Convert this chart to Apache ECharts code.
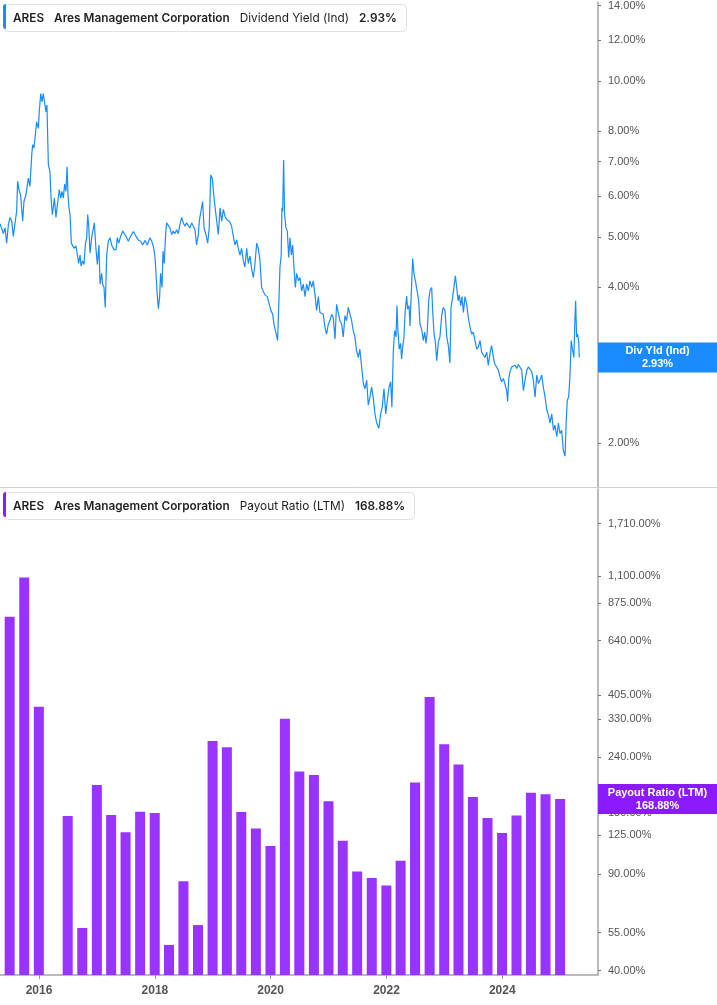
<!DOCTYPE html>
<html><head><meta charset="utf-8">
<script src="https://cdn.jsdelivr.net/npm/echarts@6/dist/echarts.min.js"></script>
<style>html,body{margin:0;padding:0;background:#fff}#c{width:717px;height:1005px}</style>
</head><body><div id="c"></div>
<script>
const ticker = 'ARES';
const companyName = 'Ares Management Corporation';
const yieldName = 'Dividend Yield (Ind)';
const payoutName = 'Payout Ratio (LTM)';

const yieldDates = ['2015-04-30','2015-05-10','2015-05-21','2015-06-01','2015-06-11','2015-06-22','2015-07-02','2015-07-13','2015-07-23','2015-08-03','2015-08-13','2015-08-19','2015-08-30','2015-09-07','2015-09-20','2015-09-28','2015-10-11','2015-10-26','2015-11-05','2015-11-16','2015-11-22','2015-11-30','2015-12-11','2015-12-17','2015-12-28',
'2016-01-03','2016-01-12','2016-01-20','2016-01-28','2016-02-06','2016-02-14','2016-02-20','2016-02-29','2016-03-10','2016-03-17','2016-03-25','2016-03-31','2016-04-07','2016-04-17','2016-04-26','2016-05-08','2016-05-17','2016-05-25','2016-06-02','2016-06-11','2016-06-19','2016-06-26','2016-07-02','2016-07-08','2016-07-15','2016-07-23','2016-07-31','2016-08-09','2016-08-21','2016-08-30','2016-09-07','2016-09-16','2016-09-22','2016-10-02','2016-10-11','2016-10-19','2016-10-28','2016-11-03','2016-11-09','2016-11-18','2016-11-28','2016-12-09','2016-12-15','2016-12-25',
'2017-01-03','2017-01-13','2017-01-20','2017-01-30','2017-02-05','2017-02-14','2017-02-22','2017-03-03','2017-03-13','2017-03-24','2017-04-03','2017-04-18','2017-05-01','2017-05-09','2017-05-18','2017-05-30','2017-06-12','2017-06-20','2017-07-03','2017-07-17','2017-08-01','2017-08-18','2017-09-04','2017-09-18','2017-10-03','2017-10-16','2017-10-31','2017-11-14','2017-12-01','2017-12-12','2017-12-22',
'2018-01-02','2018-01-08','2018-01-14','2018-01-23','2018-01-31','2018-02-06','2018-02-15','2018-02-21','2018-03-01','2018-03-10','2018-03-16','2018-03-27','2018-04-06','2018-04-17','2018-04-27','2018-05-08','2018-05-18','2018-05-29','2018-06-08','2018-06-19','2018-06-29','2018-07-10','2018-07-20','2018-07-31','2018-08-10','2018-08-21','2018-08-31','2018-09-11','2018-09-21','2018-10-02','2018-10-08','2018-10-29','2018-11-07','2018-11-19','2018-11-30','2018-12-10','2018-12-19','2018-12-29',
'2019-01-09','2019-01-21','2019-02-05','2019-02-16','2019-02-26','2019-03-09','2019-03-19','2019-03-30','2019-04-16','2019-04-30','2019-05-11','2019-05-21','2019-06-01','2019-06-11','2019-06-22','2019-07-02','2019-07-13','2019-07-23','2019-08-03','2019-08-13','2019-08-24','2019-09-03','2019-09-14','2019-09-24','2019-10-05','2019-10-15','2019-10-26','2019-11-05','2019-11-16','2019-11-26','2019-12-11','2019-12-24',
'2020-01-03','2020-01-14','2020-01-22','2020-02-02','2020-02-14','2020-02-25','2020-02-29','2020-03-08','2020-03-12','2020-03-17','2020-03-23','2020-03-29','2020-04-07','2020-04-15','2020-04-24','2020-05-02','2020-05-11','2020-05-19','2020-05-27','2020-06-05','2020-06-13','2020-06-24','2020-07-04','2020-07-15','2020-07-25','2020-08-05','2020-08-15','2020-08-26','2020-09-05','2020-09-16','2020-09-26','2020-10-07','2020-10-17','2020-10-28','2020-11-07','2020-11-18','2020-11-28','2020-12-09','2020-12-19','2020-12-30',
'2021-01-09','2021-01-20','2021-01-30','2021-02-10','2021-02-20','2021-03-03','2021-03-13','2021-03-24','2021-04-03','2021-04-14','2021-04-24','2021-05-05','2021-05-15','2021-05-26','2021-06-05','2021-06-16','2021-06-26','2021-07-07','2021-07-17','2021-07-28','2021-08-08','2021-08-18','2021-08-29','2021-09-08','2021-09-19','2021-09-29','2021-10-10','2021-10-20','2021-10-31','2021-11-14','2021-11-25','2021-12-05','2021-12-16','2021-12-27',
'2022-01-06','2022-01-17','2022-01-27','2022-02-04','2022-02-09','2022-02-13','2022-02-21','2022-03-02','2022-03-08','2022-03-14','2022-03-22','2022-03-31','2022-04-06','2022-04-13','2022-04-21','2022-04-29','2022-05-08','2022-05-14','2022-05-23','2022-05-29','2022-06-06','2022-06-15','2022-06-23','2022-07-04','2022-07-14','2022-07-23','2022-07-31','2022-08-11','2022-08-21','2022-08-30','2022-09-07','2022-09-15','2022-09-24','2022-10-02','2022-10-13','2022-10-19','2022-10-28','2022-11-05','2022-11-14','2022-11-24','2022-12-04','2022-12-15','2022-12-25',
'2023-01-05','2023-01-16','2023-01-26','2023-02-05','2023-02-12','2023-02-20','2023-03-02','2023-03-11','2023-03-20','2023-03-28','2023-04-05','2023-04-14','2023-04-22','2023-05-01','2023-05-11','2023-05-22','2023-06-01','2023-06-12','2023-06-22','2023-07-02','2023-07-13','2023-07-24','2023-08-03','2023-08-14','2023-08-24','2023-09-03','2023-09-14','2023-09-25','2023-10-05','2023-10-16','2023-10-26','2023-11-06','2023-11-16','2023-11-27','2023-12-07','2023-12-18','2023-12-28',
'2024-01-08','2024-01-19','2024-01-29','2024-02-04','2024-02-11','2024-02-19','2024-03-01','2024-03-11','2024-03-22','2024-04-01','2024-04-12','2024-04-22','2024-05-03','2024-05-13','2024-05-24','2024-06-04','2024-06-14','2024-06-24','2024-07-05','2024-07-15','2024-07-26','2024-08-06','2024-08-16','2024-08-26','2024-09-06','2024-09-16','2024-09-27','2024-10-08','2024-10-18','2024-10-29','2024-11-08','2024-11-19','2024-11-29','2024-12-10','2024-12-20','2024-12-30',
'2025-01-10','2025-01-20','2025-01-31','2025-02-06','2025-02-14','2025-02-23','2025-03-03','2025-03-11','2025-03-20','2025-03-28','2025-04-03','2025-04-08','2025-04-14','2025-04-20','2025-04-27','2025-05-01'];

const yieldValues = [5.31,5.21,5.08,5.21,4.87,5.29,5.46,5.37,5.02,5.33,5.61,6.41,6.13,6.04,5.37,5.86,6.04,6.50,6.27,7.20,7.54,7.43,7.99,8.35,8.11,
8.77,9.47,9.12,9.47,9.40,8.73,9.00,6.90,6.69,5.95,5.53,5.70,5.95,5.46,5.78,6.18,5.95,6.13,5.95,6.33,6.13,6.84,6.04,5.70,5.53,4.87,4.83,4.76,4.81,4.62,4.45,4.62,4.40,4.50,4.43,4.83,4.99,5.53,5.29,4.66,4.99,4.99,5.33,4.76,
4.43,4.83,4.06,4.26,4.06,4.00,3.66,4.62,4.91,4.99,4.83,4.73,4.73,4.99,4.87,5.02,5.14,5.17,5.02,4.91,5.02,5.13,5.02,4.94,4.91,4.83,4.93,4.83,4.99,4.91,4.81,
4.57,4.26,3.94,3.64,3.84,4.26,4.00,4.70,4.45,5.08,5.33,5.29,5.21,5.06,5.14,5.08,5.17,5.08,5.29,5.46,5.33,5.25,5.33,5.29,5.21,5.33,5.37,5.17,4.83,5.06,5.37,5.86,5.21,5.06,4.87,5.21,6.59,6.50,
5.95,5.53,5.06,5.70,5.37,5.66,5.49,5.41,5.37,5.25,5.02,4.83,4.94,4.76,4.62,4.76,4.50,4.38,4.76,4.45,4.60,4.35,4.18,4.43,4.87,4.76,4.50,4.00,4.00,3.87,3.84,3.71,
3.61,3.55,3.40,3.40,3.16,4.00,4.38,4.62,5.70,5.61,7.05,5.53,5.21,5.14,4.57,4.99,4.62,4.83,4.38,4.00,4.26,4.12,4.18,3.94,4.06,3.84,4.06,3.94,4.12,4.00,4.12,3.87,3.61,3.84,3.58,3.58,3.55,3.35,3.25,3.40,
3.45,3.55,3.50,3.18,3.71,3.74,3.45,3.40,3.21,3.53,3.45,3.66,3.69,3.45,3.30,3.21,3.02,2.93,3.04,2.81,2.61,2.55,2.65,2.37,2.46,2.57,2.44,2.28,2.19,2.14,2.28,2.35,2.55,2.28,
2.42,2.57,2.63,2.35,2.33,3.02,3.30,3.21,3.69,3.30,3.04,3.12,2.91,3.07,3.21,3.61,3.85,3.63,3.69,3.37,3.35,4.55,4.26,4.09,4.12,3.77,3.40,3.32,3.16,3.28,3.12,3.28,3.77,3.94,4.00,3.61,3.25,3.14,2.89,3.14,3.21,3.53,3.66,
3.61,3.21,3.09,2.86,3.66,3.79,3.82,4.21,4.00,3.77,3.87,3.69,3.84,3.58,3.84,3.71,3.50,3.35,3.25,3.28,3.16,3.04,3.07,3.16,3.00,3.02,2.93,3.00,2.83,2.99,3.09,2.93,2.84,2.81,2.77,2.69,2.63,
2.67,2.67,2.53,2.41,2.67,2.75,2.81,2.79,2.83,2.79,2.84,2.83,2.77,2.53,2.65,2.77,2.81,2.79,2.75,2.65,2.46,2.71,2.61,2.65,2.71,2.57,2.46,2.32,2.27,2.19,2.28,2.12,2.17,2.06,2.19,2.09,
2.12,1.94,1.89,2.15,2.42,2.46,2.69,3.16,3.02,2.93,3.45,3.77,3.21,3.25,3.16,2.93];

const payoutDates = ['2015-06-30','2015-09-30','2015-12-31',
'2016-03-31','2016-06-30','2016-09-30','2016-12-31',
'2017-03-31','2017-06-30','2017-09-30','2017-12-31',
'2018-03-31','2018-06-30','2018-09-30','2018-12-31',
'2019-03-31','2019-06-30','2019-09-30','2019-12-31',
'2020-03-31','2020-06-30','2020-09-30','2020-12-31',
'2021-03-31','2021-06-30','2021-09-30','2021-12-31',
'2022-03-31','2022-06-30','2022-09-30','2022-12-31',
'2023-03-31','2023-06-30','2023-09-30','2023-12-31',
'2024-03-31','2024-06-30','2024-09-30','2024-12-31'];
const payoutValues = [782,1088,367,
null,146.5,57.2,190,
147.8,127.8,151.9,150.3,
49.6,84.7,58.6,275,
261,151.6,132,114,
332,213,207,166,
119,92,87,81.8,
100.6,194,398,268,
226,172,144,127,
147,178,176,168.88];

const yieldTicks = [2,3,4,5,6,7,8,10,12,14];
const payoutTicks = [40,55,90,125,150,240,330,405,640,875,1100,1710];
const yearTicks = ['2016-01-01','2018-01-01','2020-01-01','2022-01-01','2024-01-01'];
const lastYield = yieldValues[yieldValues.length - 1];
const lastPayout = payoutValues[payoutValues.length - 1];

const BLUE = '#1a8cff', PURPLE = '#9933ff', PURPLE_BADGE = '#8c1aff';
const ts = d => echarts.time.parse(d).getTime();
const fmtPct = v => Number(v).toLocaleString('en-US', {minimumFractionDigits: 2, maximumFractionDigits: 2}) + '%';
const xMin = ts('2015-04-30'), xMax = ts('2025-08-27');

const headerRich = {
  b: {fontFamily: 'Inter', fontWeight: 600, fontSize: 11.8, color: '#1f1f1f', lineHeight: 14},
  n: {fontFamily: 'Inter', fontWeight: 'normal', fontSize: 11.8, color: '#1f1f1f', lineHeight: 14},
  s: {width: 10}
};
function header(name, val) {
  return '{b|' + ticker + '}{s| }{b|' + companyName + '}{s| }{n|' + name + '}{s| }{b|' + fmtPct(val) + '}';
}
const badgeRich = {a: {width: 119, align: 'center', color: '#fff', fontWeight: 'bold', fontSize: 11, lineHeight: 13, fontFamily: 'Liberation Sans'}};

const yAxisCommon = {
  type: 'log', logBase: 10, position: 'right',
  axisLine: {show: true, onZero: false, lineStyle: {color: '#a6a6a6', width: 1.5}},
  splitLine: {show: false},
};

const chart = echarts.init(document.getElementById('c'), null, {renderer: 'canvas'});
chart.setOption({
  animation: false,
  backgroundColor: '#fff',
  title: [
    {left: 3, top: 4, padding: [5, 10, 5, 10], borderColor: '#e2e2e2', borderWidth: 1, borderRadius: 4, backgroundColor: '#fff',
     text: header(yieldName, lastYield), textStyle: {rich: headerRich}},
    {left: 3, top: 492, padding: [5, 10, 5, 10], borderColor: '#e2e2e2', borderWidth: 1, borderRadius: 4, backgroundColor: '#fff',
     text: header(payoutName, lastPayout), textStyle: {rich: headerRich}}
  ],
  graphic: [
    {type: 'line', shape: {x1: 0, y1: 487.5, x2: 717, y2: 487.5}, style: {stroke: '#cfcfcf', lineWidth: 1}, z: 1},
    {type: 'rect', left: 3, top: 4, shape: {width: 3, height: 25, r: [3, 0, 0, 3]}, style: {fill: BLUE}, z: 20},
    {type: 'rect', left: 3, top: 492, shape: {width: 3, height: 25, r: [3, 0, 0, 3]}, style: {fill: PURPLE_BADGE}, z: 20}
  ],
  grid: [
    {left: 0, right: 119, top: 0, height: 487},
    {left: 0, right: 119, top: 489, bottom: 30}
  ],
  xAxis: [
    {type: 'value', gridIndex: 0, min: xMin, max: xMax, axisLine: {show: false}, axisTick: {show: false}, axisLabel: {show: false}, splitLine: {show: false}},
    {type: 'value', gridIndex: 1, min: xMin, max: xMax,
     axisLine: {show: true, onZero: false, lineStyle: {color: '#a6a6a6', width: 1.5}},
     axisTick: {show: true, length: 4, customValues: yearTicks.map(ts), lineStyle: {color: '#999'}},
     axisLabel: {customValues: yearTicks.map(ts), formatter: v => String(new Date(v).getFullYear()), color: '#555', fontWeight: 'bold', fontSize: 12, fontFamily: 'Liberation Sans', margin: 10},
     splitLine: {show: false}}
  ],
  yAxis: [
    Object.assign({}, yAxisCommon, {gridIndex: 0, min: 1.648, max: 14.2,
      axisTick: {show: true, length: 3, customValues: yieldTicks, lineStyle: {color: '#777'}},
      axisLabel: {customValues: yieldTicks, formatter: fmtPct, color: '#555', fontSize: 11, fontFamily: 'Liberation Sans', margin: 10}}),
    Object.assign({}, yAxisCommon, {gridIndex: 1, min: 38.52, max: 2287,
      axisTick: {show: true, length: 3, customValues: payoutTicks, lineStyle: {color: '#777'}},
      axisLabel: {customValues: payoutTicks, formatter: fmtPct, color: '#555', fontSize: 11, fontFamily: 'Liberation Sans', margin: 10}})
  ],
  series: [
    {type: 'line', xAxisIndex: 0, yAxisIndex: 0, showSymbol: false, symbol: 'none', clip: false,
     data: yieldDates.map((d, i) => [ts(d), yieldValues[i]]),
     lineStyle: {color: BLUE, width: 1.2}, z: 3,
     markLine: {silent: true, symbol: 'none', z: 10, lineStyle: {color: 'rgba(0,0,0,0)', width: 1, opacity: 1},
       data: [{yAxis: lastYield}],
       label: {show: true, opacity: 1, position: 'end', distance: 0, formatter: '{a|Div Yld (Ind)}\n{a|' + fmtPct(lastYield) + '}',
         backgroundColor: BLUE, padding: [2, 0, 2, 0], rich: badgeRich}}},
    {type: 'bar', xAxisIndex: 1, yAxisIndex: 1, barWidth: 10,
     data: payoutDates.map((d, i) => [ts(d), payoutValues[i]]),
     itemStyle: {color: PURPLE}, z: 3,
     markLine: {silent: true, symbol: 'none', z: 10, lineStyle: {color: 'rgba(0,0,0,0)', width: 1, opacity: 1},
       data: [{yAxis: lastPayout}],
       label: {show: true, opacity: 1, position: 'end', distance: 0, formatter: '{a|' + payoutName + '}\n{a|' + fmtPct(lastPayout) + '}',
         backgroundColor: PURPLE_BADGE, padding: [2, 0, 2, 0], rich: badgeRich}}}
  ]
});
</script></body></html>
